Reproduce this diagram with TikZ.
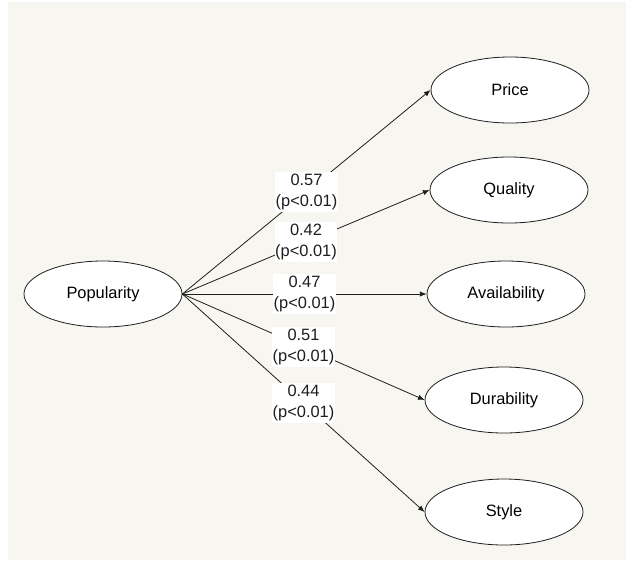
\documentclass[tikz,border=0pt]{standalone}
\usepackage{fontspec}
\setmainfont{Liberation Sans}
\usepackage{tikz}
\usetikzlibrary{arrows.meta,shapes.geometric}
\definecolor{paper}{RGB}{248,246,240}
\definecolor{ink}{RGB}{30,30,30}

\begin{document}
\begin{tikzpicture}[x=0.75pt,y=-0.75pt,
  latent/.style={ellipse,draw=ink,fill=white,line width=0.6pt,minimum width=118.5pt,minimum height=49.5pt,inner sep=0pt},
  coef/.style={fill=white,inner xsep=0.5pt,inner ysep=1.5pt,align=center,text=ink},
  path/.style={draw=ink,line width=0.6pt,-{Latex[length=5pt,width=4pt]}}]
  \useasboundingbox (0,0) rectangle (627,568);
  \fill[paper] (8,2) rectangle (626,560);
  \fontsize{12.3}{15.5}\selectfont
  \node[latent] (pop) at (103,294) {Popularity};
  \foreach \name/\x/\y in {Price/510/90,Quality/509/190,Availability/506/294,Durability/504/400,Style/504/512}
    \node[latent] (\name) at (\x,\y) {\name};
  \foreach \name/\val in {Price/0.57,Quality/0.42,Availability/0.47,Durability/0.51,Style/0.44}
    \draw[path] (pop.east) -- node[coef] {\val\\(p<0.01)} (\name.west);
\end{tikzpicture}
\end{document}
